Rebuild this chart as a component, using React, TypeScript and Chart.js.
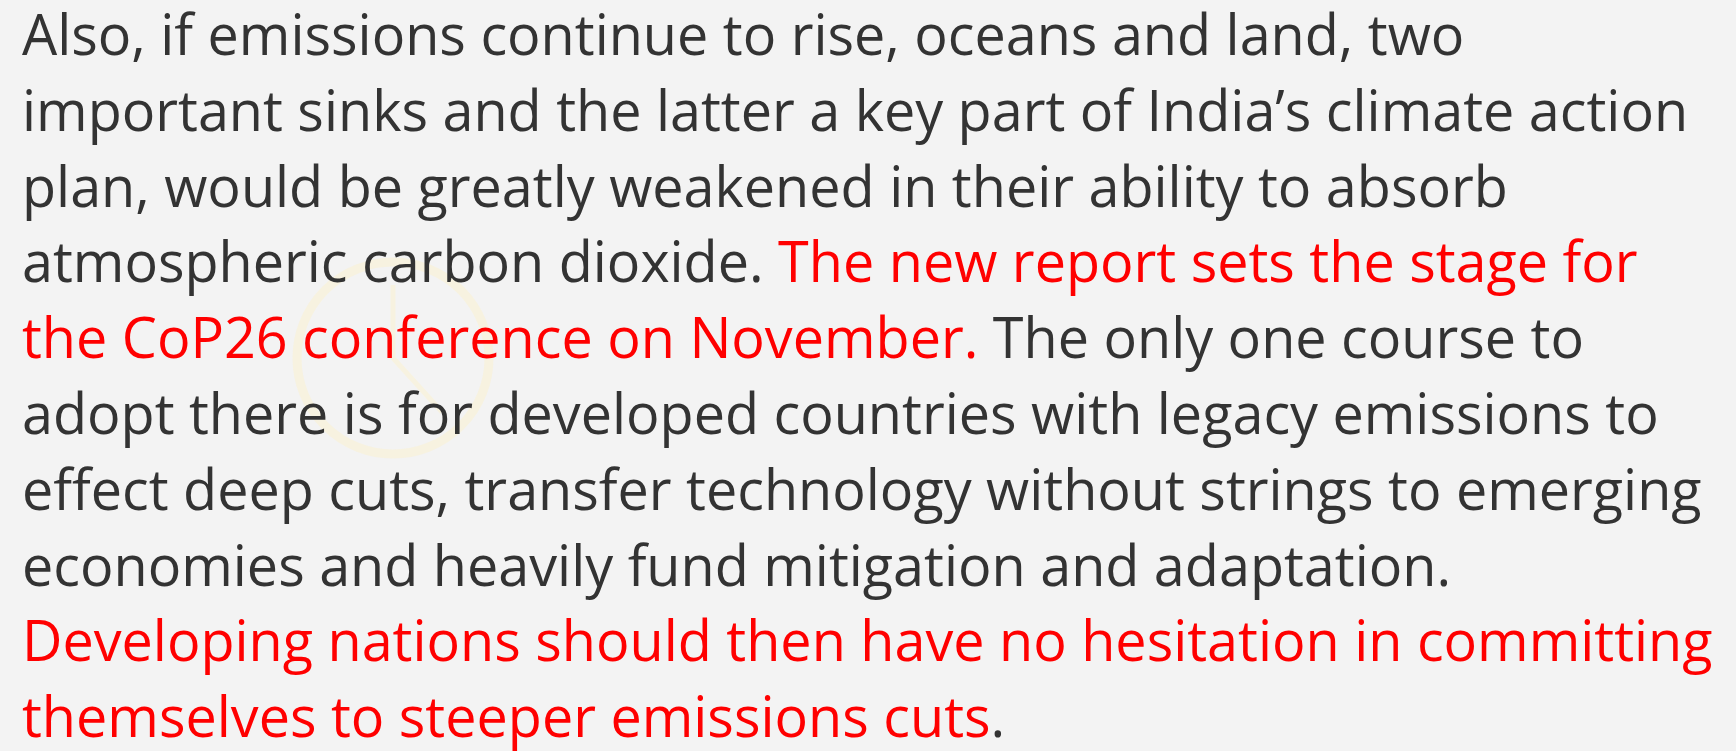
import React, { useEffect, useRef } from "react";
import { Chart, registerables } from "chart.js";

Chart.register(...registerables);

type Seg = { text: string; red: boolean };

const LINE_1: Seg[] = [{ text: "Also, if emissions continue to rise, oceans and land, two", red: false }];
const LINE_2: Seg[] = [{ text: "important sinks and the latter a key part of India\u2019s climate action", red: false }];
const LINE_3: Seg[] = [{ text: "plan, would be greatly weakened in their ability to absorb", red: false }];
const LINE_4: Seg[] = [
  { text: "atmospheric carbon dioxide. ", red: false },
  { text: "The new report sets the stage for", red: true },
];
const LINE_5: Seg[] = [
  { text: "the CoP26 conference on November.", red: true },
  { text: " The only one course to", red: false },
];
const LINE_6: Seg[] = [{ text: "adopt there is for developed countries with legacy emissions to", red: false }];
const LINE_7: Seg[] = [{ text: "effect deep cuts, transfer technology without strings to emerging", red: false }];
const LINE_8: Seg[] = [{ text: "economies and heavily fund mitigation and adaptation.", red: false }];
const LINE_9: Seg[] = [{ text: "Developing nations should then have no hesitation in committing", red: true }];
const LINE_10: Seg[] = [
  { text: "themselves to steeper emissions cuts", red: true },
  { text: ".", red: false },
];

const LINES: Seg[][] = [LINE_1, LINE_2, LINE_3, LINE_4, LINE_5, LINE_6, LINE_7, LINE_8, LINE_9, LINE_10];

const BG = "#f3f3f3";
const DARK = "#333333";
const RED = "#ff0000";

export default function App() {
  const canvasRef = useRef<HTMLCanvasElement | null>(null);

  useEffect(() => {
    document.body.style.margin = "0";
    const canvas = canvasRef.current;
    if (!canvas) return;
    const bgPlugin = {
      id: "slideBg",
      beforeDraw(chart: any) {
        const ctx = chart.ctx as CanvasRenderingContext2D;
        ctx.save();
        ctx.fillStyle = BG;
        ctx.fillRect(0, 0, chart.width, chart.height);
        // faint watermark clock
        ctx.strokeStyle = "rgba(255, 240, 190, 0.35)";
        ctx.lineWidth = 9;
        ctx.beginPath();
        ctx.arc(393, 358, 96, 0, Math.PI * 2);
        ctx.stroke();
        ctx.lineWidth = 5;
        ctx.beginPath();
        ctx.moveTo(393, 285);
        ctx.lineTo(393, 358);
        ctx.lineTo(442, 412);
        ctx.stroke();
        ctx.restore();
      },
    };
    const chart = new Chart(canvas, {
      type: "scatter",
      data: { datasets: [{ data: [] }] },
      options: {
        animation: false,
        responsive: false,
        maintainAspectRatio: false,
        events: [],
        plugins: { legend: { display: false }, tooltip: { enabled: false }, title: { display: false } },
        scales: { x: { display: false }, y: { display: false } },
      },
      plugins: [bgPlugin],
    });
    return () => chart.destroy();
  }, []);

  return (
    <div style={{ position: "relative", width: 1736, height: 751, overflow: "hidden", background: BG }}>
      <canvas ref={canvasRef} width={1736} height={751} style={{ position: "absolute", left: 0, top: 0 }} />
      <div
        style={{
          position: "absolute",
          left: 22,
          top: -4,
          fontFamily: "'Open Sans', 'Noto Sans', sans-serif",
          fontSize: 56,
          lineHeight: "75.8px",
          whiteSpace: "pre",
          transform: "scaleX(0.995)",
          transformOrigin: "left top",
          color: DARK,
        }}
      >
        {LINES.map((line, i) => (
          <div key={i}>
            {line.map((s, j) => (
              <span key={j} style={{ color: s.red ? RED : DARK }}>
                {s.text}
              </span>
            ))}
          </div>
        ))}
      </div>
    </div>
  );
}
